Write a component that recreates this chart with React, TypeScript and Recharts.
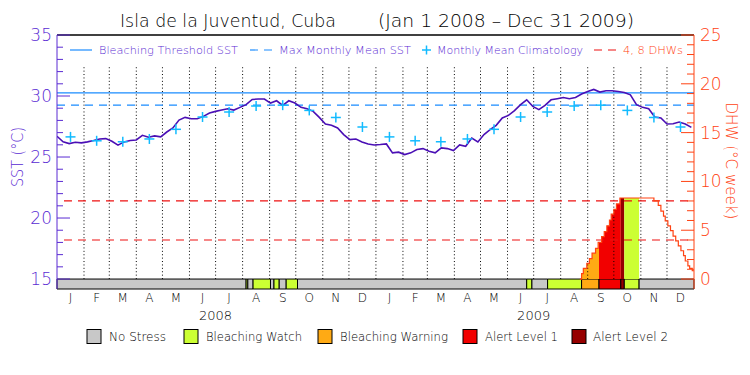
import React from "react";
import {
  ComposedChart,
  Line,
  Area,
  Scatter,
  XAxis,
  YAxis,
  ReferenceLine,
  ReferenceArea,
} from "recharts";

// ---- data ----
const MONTH_LETTERS = ["J", "F", "M", "A", "M", "J", "J", "A", "S", "O", "N", "D"];
const MONTH_LENGTHS_2008 = [31, 29, 31, 30, 31, 30, 31, 31, 30, 31, 30, 31];
const MONTH_LENGTHS_2009 = [31, 28, 31, 30, 31, 30, 31, 31, 30, 31, 30, 31];
const YEARS = ["2008", "2009"];

// weekly SST samples, Jan 1 2008 onwards
const SST_STEP_DAYS = 7;
const SST = [
  26.7, 26.24, 26.1, 26.21, 26.16, 26.24, 26.35, 26.48, 26.51, 26.29, 25.97, 26.24, 26.35, 26.4,
  26.78, 26.62, 26.73, 26.65, 27.05, 27.38, 28.03, 28.25, 28.14, 28.14, 28.33, 28.6, 28.74, 28.85,
  28.96, 28.85, 29.07, 29.29, 29.72, 29.75, 29.75, 29.42, 29.61, 29.23, 29.61, 29.42, 29.07, 28.96,
  28.74, 28.25, 27.71, 27.6, 27.38, 26.84, 26.43, 26.48, 26.24, 26.07, 25.99, 26.02, 26.07, 25.34,
  25.4, 25.2, 25.34, 25.61, 25.69, 25.48, 25.34, 25.75, 25.69, 25.53, 25.99, 25.88, 26.56, 26.24,
  26.84, 27.24, 27.6, 28.2, 28.41, 28.8, 29.29, 29.69, 29.15, 28.88, 29.23, 29.69, 29.78, 29.88,
  29.78, 29.88, 30.16, 30.37, 30.54, 30.32, 30.43, 30.43, 30.37, 30.29, 30.1, 29.29, 29.07, 28.96,
  28.28, 28.2, 27.71, 27.73, 27.87, 27.71, 27.43,
];

// monthly mean climatology, Jan..Dec
const CLIMATOLOGY = [26.65, 26.33, 26.25, 26.48, 27.27, 28.28, 28.69, 29.18, 29.25, 28.82, 28.24, 27.46];
const MMM = 29.25;
const THRESHOLD = 30.25;
const DHW_MARKS = [4, 8];

// degree heating weeks (step values, day index from Jan 1 2008)
const DHW_DAYS = [
  600, 602, 604, 608, 611, 614, 618, 621, 625, 628, 631, 634, 636, 639, 642, 646, 685, 690, 693,
  696, 698, 701, 704, 707, 710, 713, 716, 719, 721, 724, 726, 729, 731,
];
const DHW = [
  0, 0.55, 1.1, 1.6, 2.1, 2.65, 3.15, 3.75, 4.35, 4.85, 5.45, 6.05, 6.65, 7.15, 7.7, 8.3, 8.0, 7.55,
  6.95, 6.45, 5.95, 5.45, 4.95, 4.4, 3.9, 3.4, 2.9, 2.4, 1.85, 1.35, 1.1, 0.85, 0.85,
];

// stress level bar
const STRESS_START = [0, 217, 219, 225, 245, 249, 255, 263, 276, 539, 545, 563, 602, 622, 647, 651, 668];
const STRESS_END = [217, 219, 225, 245, 249, 255, 263, 276, 539, 545, 563, 602, 622, 647, 651, 668, 731];
const STRESS_LEVEL = [0, 1, 0, 1, 0, 1, 0, 1, 0, 1, 0, 1, 2, 3, 4, 1, 0];
const LEVEL_NAMES = ["No Stress", "Bleaching Watch", "Bleaching Warning", "Alert Level 1", "Alert Level 2"];
const LEVEL_COLORS = ["#c8c8c8", "#ccff33", "#ffaa14", "#f20000", "#960000"];

// ---- styling ----
const FONT = "'DejaVu Sans', sans-serif";
const WEIGHT = 200;
const PURPLE = "#5a2bd3";
const SST_LINE = "#4a0fb5";
const BLUE = "#1a8cff";
const CYAN = "#12bbff";
const DHW_COLOR = "#ff4212";

const monthStarts: number[] = [];
{
  let d = 0;
  [...MONTH_LENGTHS_2008, ...MONTH_LENGTHS_2009].forEach((len) => {
    monthStarts.push(d);
    d += len;
  });
  monthStarts.push(d);
}
const TOTAL_DAYS = monthStarts[monthStarts.length - 1];
const monthMids = monthStarts.slice(0, -1).map((s, i) => s + (monthStarts[i + 1] - s) / 2);
const yearMids = [monthStarts[6], monthStarts[18]];

// SST axis 15..35 sits on 245px; bar below it takes 10px
const SST_MIN = 15 - (20 * 10) / 245;
const DHW_MIN = -(25 * 10) / 245;

const dhwAt = (day: number) => {
  let v = 0;
  DHW_DAYS.forEach((d, i) => {
    if (d <= day) v = DHW[i];
  });
  return v;
};

const sstDays = SST.map((_, i) => i * SST_STEP_DAYS);
const fillSegs = STRESS_LEVEL.map((lvl, i) => i).filter(
  (i) => STRESS_LEVEL[i] > 0 && STRESS_END[i] > DHW_DAYS[0]
);

const allDays = Array.from(
  new Set([...sstDays, ...DHW_DAYS, ...STRESS_START, ...STRESS_END])
).sort((a, b) => a - b);

const rows = allDays.map((day) => {
  const row: any = { day };
  const si = sstDays.indexOf(day);
  if (si >= 0) row.sst = SST[si];
  const di = DHW_DAYS.indexOf(day);
  if (di >= 0) row.dhw = DHW[di];
  fillSegs.forEach((i) => {
    if (day >= STRESS_START[i] && day <= STRESS_END[i]) row["seg" + i] = dhwAt(day);
  });
  return row;
});

const climPoints = monthMids.map((day, i) => ({ day, clim: CLIMATOLOGY[i % 12] }));

function SstTick(props: any) {
  const { x, y, payload } = props;
  const major = payload.value % 5 === 0;
  return (
    <g>
      <line x1={x} x2={x + (major ? 13 : 6)} y1={y} y2={y} stroke={PURPLE} />
      {major && (
        <text x={x - 5} y={y + 6} textAnchor="end" fill={PURPLE} fontSize={17} fontFamily={FONT} fontWeight={WEIGHT}>
          {payload.value}
        </text>
      )}
    </g>
  );
}

function DhwTick(props: any) {
  const { x, y, payload } = props;
  const major = payload.value % 5 === 0;
  return (
    <g>
      <line x1={x} x2={x - (major ? 13 : 7)} y1={y} y2={y} stroke={DHW_COLOR} />
      {major && (
        <text x={x + 6} y={y + 6} textAnchor="start" fill={DHW_COLOR} fontSize={17} fontFamily={FONT} fontWeight={WEIGHT}>
          {payload.value}
        </text>
      )}
    </g>
  );
}

function MonthTick(props: any) {
  const { x, y, index } = props;
  return (
    <text x={x} y={y + 13} textAnchor="middle" fill="#000" fontSize={12} fontFamily={FONT} fontWeight={WEIGHT}>
      {MONTH_LETTERS[index % 12]}
    </text>
  );
}

function YearTick(props: any) {
  const { x, y, index } = props;
  return (
    <text x={x} y={y + 30} textAnchor="middle" fill="#000" fontSize={13} fontFamily={FONT} fontWeight={WEIGHT}>
      {YEARS[index]}
    </text>
  );
}

const Plus = (props: any) => {
  const { cx, cy } = props;
  return (
    <g stroke={CYAN} strokeWidth={1.5}>
      <line x1={cx - 5} x2={cx + 5} y1={cy} y2={cy} />
      <line x1={cx} x2={cx} y1={cy - 5} y2={cy + 5} />
    </g>
  );
};

const legendBoxes = [87, 184, 318, 463, 572];
const legendTexts = [
  { x: 109, w: 57 },
  { x: 206, w: 96 },
  { x: 340, w: 108 },
  { x: 485, w: 73 },
  { x: 593, w: 75 },
];

export default function App() {
  return (
    <div style={{ position: "absolute", left: 0, top: 0, width: 750, height: 375, background: "#fff" }}>
      <ComposedChart
        width={750}
        height={375}
        data={rows}
        margin={{ top: 35, right: 55, bottom: 84, left: 56 }}
      >
        <XAxis
          dataKey="day"
          type="number"
          domain={[0, TOTAL_DAYS]}
          ticks={monthMids}
          interval={0}
          height={1}
          tickSize={0}
          tickMargin={0}
          axisLine={false}
          tick={MonthTick}
          allowDataOverflow
        />
        <XAxis
          xAxisId="year"
          dataKey="day"
          type="number"
          domain={[0, TOTAL_DAYS]}
          ticks={yearMids}
          interval={0}
          height={1}
          tickSize={0}
          tickMargin={0}
          axisLine={false}
          tick={YearTick}
          allowDataOverflow
        />
        <YAxis
          yAxisId="sst"
          type="number"
          domain={[SST_MIN, 35]}
          ticks={Array.from({ length: 21 }, (_, i) => 15 + i)}
          interval={0}
          width={1}
          tickSize={0}
          tickMargin={0}
          axisLine={{ stroke: PURPLE }}
          tick={SstTick}
          allowDataOverflow
        />
        <YAxis
          yAxisId="dhw"
          orientation="right"
          type="number"
          domain={[DHW_MIN, 25]}
          ticks={Array.from({ length: 26 }, (_, i) => i)}
          interval={0}
          width={1}
          tickSize={0}
          tickMargin={0}
          axisLine={{ stroke: DHW_COLOR }}
          tick={DhwTick}
          allowDataOverflow
        />

        {STRESS_START.map((s, i) => (
          <ReferenceArea
            key={"bar" + i}
            yAxisId="sst"
            x1={s}
            x2={STRESS_END[i]}
            y1={SST_MIN}
            y2={15}
            fill={LEVEL_COLORS[STRESS_LEVEL[i]]}
            fillOpacity={1}
            stroke="#000"
            strokeWidth={1}
          />
        ))}

        {fillSegs.map((i) => (
          <Area
            key={"fill" + i}
            yAxisId="dhw"
            dataKey={"seg" + i}
            type="stepAfter"
            fill={LEVEL_COLORS[STRESS_LEVEL[i]]}
            fillOpacity={1}
            stroke="none"
            isAnimationActive={false}
            dot={false}
            activeDot={false}
          />
        ))}

        {monthStarts.slice(1, -1).map((d) => (
          <ReferenceLine
            key={"m" + d}
            yAxisId="sst"
            segment={[
              { x: d, y: 15 },
              { x: d, y: 32.55 },
            ]}
            stroke="#000"
            strokeDasharray="1 2.4"
          />
        ))}

        <ReferenceLine yAxisId="sst" y={35} stroke="#000" strokeWidth={1.5} />
        <ReferenceLine yAxisId="sst" y={THRESHOLD} stroke={BLUE} strokeWidth={1.2} />
        <ReferenceLine yAxisId="sst" y={MMM} stroke={BLUE} strokeWidth={1.2} strokeDasharray="8 6" />
        {DHW_MARKS.map((v) => (
          <ReferenceLine
            key={"dhw" + v}
            yAxisId="dhw"
            segment={[
              { x: 8, y: v },
              { x: TOTAL_DAYS - 3, y: v },
            ]}
            stroke="#ee1111"
            strokeWidth={1.2}
            strokeDasharray="8 6"
          />
        ))}

        <Line
          yAxisId="dhw"
          dataKey="dhw"
          type="stepAfter"
          stroke={DHW_COLOR}
          strokeWidth={1.2}
          dot={false}
          activeDot={false}
          connectNulls
          isAnimationActive={false}
        />
        <Line
          yAxisId="sst"
          dataKey="sst"
          type="linear"
          stroke={SST_LINE}
          strokeWidth={1.6}
          dot={false}
          activeDot={false}
          connectNulls
          isAnimationActive={false}
        />
        <Scatter
          yAxisId="sst"
          data={climPoints}
          dataKey="clim"
          shape={<Plus />}
          isAnimationActive={false}
        />
      </ComposedChart>

      <svg
        width={750}
        height={375}
        style={{ position: "absolute", left: 0, top: 0, pointerEvents: "none" }}
        fontFamily={FONT}
        fontWeight={WEIGHT}
      >
        <text x={120} y={27} fontSize={17} fill="#000" textLength={216} lengthAdjust="spacingAndGlyphs">
          Isla de la Juventud, Cuba
        </text>
        <text x={378} y={27} fontSize={17} fill="#000" textLength={256} lengthAdjust="spacingAndGlyphs">
          (Jan 1 2008 – Dec 31 2009)
        </text>

        <line x1={70} x2={92} y1={50} y2={50} stroke={BLUE} strokeWidth={1.2} />
        <text x={99} y={54} fontSize={11} fill={PURPLE} textLength={139} lengthAdjust="spacingAndGlyphs">
          Bleaching Threshold SST
        </text>
        <line x1={250} x2={274} y1={50} y2={50} stroke={BLUE} strokeWidth={1.2} strokeDasharray="8 6" />
        <text x={279} y={54} fontSize={11} fill={PURPLE} textLength={132} lengthAdjust="spacingAndGlyphs">
          Max Monthly Mean SST
        </text>
        <g stroke={CYAN} strokeWidth={1.5}>
          <line x1={422} x2={431} y1={50} y2={50} />
          <line x1={426.5} x2={426.5} y1={45.5} y2={54.5} />
        </g>
        <text x={437} y={54} fontSize={11} fill={PURPLE} textLength={146} lengthAdjust="spacingAndGlyphs">
          Monthly Mean Climatology
        </text>
        <line x1={594} x2={618} y1={50} y2={50} stroke="#ee1111" strokeWidth={1.2} strokeDasharray="8 6" />
        <text x={623} y={54} fontSize={11} fill={DHW_COLOR} textLength={60} lengthAdjust="spacingAndGlyphs">
          4, 8 DHWs
        </text>

        <text
          transform="translate(23 157) rotate(-90)"
          textAnchor="middle"
          fontSize={16}
          fill={PURPLE}
          textLength={60}
          lengthAdjust="spacingAndGlyphs"
        >
          SST (°C)
        </text>
        <text
          transform="translate(726 161) rotate(90)"
          textAnchor="middle"
          fontSize={16}
          fill={DHW_COLOR}
          textLength={117}
          lengthAdjust="spacingAndGlyphs"
        >
          DHW (°C week)
        </text>

        {LEVEL_NAMES.map((name, i) => (
          <g key={name}>
            <rect x={legendBoxes[i]} y={329.5} width={14} height={14} fill={LEVEL_COLORS[i]} stroke="#000" />
            <text
              x={legendTexts[i].x}
              y={341}
              fontSize={12}
              fill="#000"
              textLength={legendTexts[i].w}
              lengthAdjust="spacingAndGlyphs"
            >
              {name}
            </text>
          </g>
        ))}
      </svg>
    </div>
  );
}
